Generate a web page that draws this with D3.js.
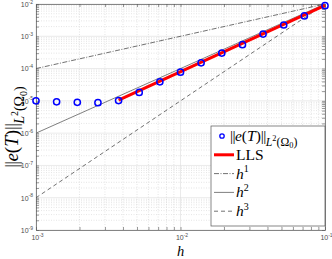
<!DOCTYPE html>
<html>
<head>
<meta charset="utf-8">
<script src="https://cdn.jsdelivr.net/npm/d3@7"></script>
<style>
  body { margin: 0; background: #fff; }
  svg { display: block; }
  .tick-label { font-family: "Liberation Sans", Arial, sans-serif; fill: #4d4d4d; }
  .math { font-family: "Liberation Serif", "DejaVu Serif", serif; fill: #000; }
</style>
</head>
<body>
<svg id="chart" width="332" height="259"></svg>
<script>
// mesh sizes and L2 error
const hValues = [0.001, 0.001389, 0.001931, 0.002683, 0.003728, 0.005179, 0.007197,
                 0.01, 0.01389, 0.01931, 0.02683, 0.03728, 0.05179, 0.07197, 0.1];
const errValues = [1.0e-5, 9.3e-6, 9.0e-6, 8.8e-6, 1.02e-5, 1.82e-5, 3.89e-5,
                   7.76e-5, 1.51e-4, 3.02e-4, 5.5e-4, 1.17e-3, 2.24e-3, 4.27e-3, 8.9e-3];
// least squares fit line end points
const llsH = [0.003728, 0.1];
const llsErr = [1.05e-5, 9.1e-3];
// reference slopes
const refH = [0.001, 0.1];
const refH1 = [1e-4, 1e-2];
const refH2 = [1e-6, 1e-2];
const refH3 = [1e-8, 1e-2];
const xTickExps = [-3, -2, -1];
const yTickExps = [-9, -8, -7, -6, -5, -4, -3, -2];

const margin = { left: 36, right: 325, top: 4, bottom: 230 };
const svg = d3.select('#chart');

const x = d3.scaleLog().domain([1e-3, 1e-1]).range([margin.left, margin.right]);
const y = d3.scaleLog().domain([1e-9, 1e-2]).range([margin.bottom, margin.top]);

function minorTicks(exps) {
    const out = [];
    exps.slice(0, -1).forEach(e => {
        for (let k = 2; k <= 9; k++) out.push(k * Math.pow(10, e));
    });
    return out;
}
const xMinor = minorTicks(xTickExps);
const yMinor = minorTicks(yTickExps);
const xMajor = xTickExps.map(e => Math.pow(10, e));
const yMajor = yTickExps.map(e => Math.pow(10, e));

// grid
const grid = svg.append('g');
grid.selectAll('.xminor').data(xMinor).join('line')
    .attr('x1', d => x(d)).attr('x2', d => x(d))
    .attr('y1', margin.top).attr('y2', margin.bottom)
    .attr('stroke', '#d4d4d4').attr('stroke-width', 0.6).attr('stroke-dasharray', '1,1.5');
grid.selectAll('.yminor').data(yMinor).join('line')
    .attr('y1', d => y(d)).attr('y2', d => y(d))
    .attr('x1', margin.left).attr('x2', margin.right)
    .attr('stroke', '#d4d4d4').attr('stroke-width', 0.6).attr('stroke-dasharray', '1,1.5');
grid.selectAll('.xmajor').data(xMajor).join('line')
    .attr('x1', d => x(d)).attr('x2', d => x(d))
    .attr('y1', margin.top).attr('y2', margin.bottom)
    .attr('stroke', '#dcdcdc').attr('stroke-width', 0.6);
grid.selectAll('.ymajor').data(yMajor).join('line')
    .attr('y1', d => y(d)).attr('y2', d => y(d))
    .attr('x1', margin.left).attr('x2', margin.right)
    .attr('stroke', '#dcdcdc').attr('stroke-width', 0.6);

// axes (ticks inside, box on)
const allX = xMajor.concat(xMinor);
const allY = yMajor.concat(yMinor);
function styleAxis(g) {
    g.selectAll('text').remove();
    g.select('.domain').attr('stroke', '#555').attr('stroke-width', 0.7);
    g.selectAll('.tick line').attr('stroke', '#555').attr('stroke-width', 0.6);
}
svg.append('g').attr('transform', `translate(0,${margin.bottom})`)
    .call(d3.axisBottom(x).tickValues(allX).tickSize(-3).tickSizeOuter(0)).call(styleAxis);
svg.append('g').attr('transform', `translate(0,${margin.top})`)
    .call(d3.axisTop(x).tickValues(allX).tickSize(-3).tickSizeOuter(0)).call(styleAxis);
svg.append('g').attr('transform', `translate(${margin.left},0)`)
    .call(d3.axisLeft(y).tickValues(allY).tickSize(-3).tickSizeOuter(0)).call(styleAxis);
svg.append('g').attr('transform', `translate(${margin.right},0)`)
    .call(d3.axisRight(y).tickValues(allY).tickSize(-3).tickSizeOuter(0)).call(styleAxis);

// tick labels 10^n
function powLabel(g, e, px, py, anchor) {
    const t = g.append('text').attr('class', 'tick-label')
        .attr('x', px).attr('y', py).attr('text-anchor', anchor);
    t.append('tspan').attr('font-size', 7).text('10');
    t.append('tspan').attr('font-size', 5).attr('dy', -3.2).text(e);
}
const labels = svg.append('g');
xTickExps.forEach(e => powLabel(labels, e, x(Math.pow(10, e)) + 1.5, 240, 'middle'));
yTickExps.forEach(e => powLabel(labels, e, margin.left - 3, y(Math.pow(10, e)) + 2.8, 'end'));

// reference lines
const line = d3.line().x(d => x(d[0])).y(d => y(d[1]));
const refs = [
    { vals: refH1, color: '#4d4d4d', dash: '5,1.5,1,1.5', width: 0.8 },
    { vals: refH2, color: '#707070', dash: null, width: 0.9 },
    { vals: refH3, color: '#4d4d4d', dash: '4,3', width: 0.8 }
];
refs.forEach(r => {
    svg.append('path')
        .datum(refH.map((h, i) => [h, r.vals[i]]))
        .attr('d', line)
        .attr('fill', 'none')
        .attr('stroke', r.color)
        .attr('stroke-width', r.width)
        .attr('stroke-dasharray', r.dash);
});

// LLS fit
svg.append('path')
    .datum(llsH.map((h, i) => [h, llsErr[i]]))
    .attr('d', line)
    .attr('fill', 'none')
    .attr('stroke', '#ff0000')
    .attr('stroke-width', 3);

// error markers
svg.selectAll('.pt').data(hValues.map((h, i) => [h, errValues[i]])).join('circle')
    .attr('cx', d => x(d[0])).attr('cy', d => y(d[1]))
    .attr('r', 3.1)
    .attr('fill', 'none')
    .attr('stroke', '#0000ff')
    .attr('stroke-width', 1.5);

// norm label built from tspans
function normLabel(t, size) {
    const bars = () => t.append('tspan').attr('letter-spacing', -size * 0.04).text('||');
    bars();
    t.append('tspan').attr('font-style', 'italic').text('e');
    t.append('tspan').text('(');
    t.append('tspan').attr('font-style', 'italic').text('T');
    t.append('tspan').text(')');
    bars();
    t.append('tspan').attr('font-style', 'italic').attr('font-size', size * 0.74).attr('dy', size * 0.3).text('L');
    t.append('tspan').attr('font-size', size * 0.52).attr('dy', -size * 0.32).text('2');
    t.append('tspan').attr('font-size', size * 0.74).attr('dy', size * 0.32).text('(\u03a9');
    t.append('tspan').attr('font-size', size * 0.52).attr('dy', size * 0.15).text('0');
    t.append('tspan').attr('font-size', size * 0.74).attr('dy', -size * 0.15).text(')');
}

// axis titles
svg.append('text').attr('class', 'math')
    .attr('x', x(Math.pow(10, -2))).attr('y', 255.5)
    .attr('text-anchor', 'middle').attr('font-size', 14.5).attr('font-style', 'italic')
    .text('h');
const yTitle = svg.append('text').attr('class', 'math')
    .attr('transform', `translate(18,127) rotate(-90)`)
    .attr('text-anchor', 'middle').attr('font-size', 19);
normLabel(yTitle, 19);

// legend
const legend = svg.append('g');
const lx = 211, ly = 126, lw = 114, lh = 100;
legend.append('rect').attr('x', lx).attr('y', ly).attr('width', lw).attr('height', lh)
    .attr('fill', '#fff').attr('stroke', '#555').attr('stroke-width', 0.7);
const legendItems = [
    { kind: 'marker' },
    { kind: 'line', color: '#ff0000', width: 3, dash: null, text: 'LLS' },
    { kind: 'line', color: '#4d4d4d', width: 0.8, dash: '5,1.5,1,1.5', pow: '1' },
    { kind: 'line', color: '#707070', width: 0.9, dash: null, pow: '2' },
    { kind: 'line', color: '#4d4d4d', width: 0.8, dash: '4,3', pow: '3' }
];
legendItems.forEach((it, i) => {
    const cy = ly + 10 + i * 18.8;
    if (it.kind === 'marker') {
        legend.append('circle').attr('cx', lx + 11).attr('cy', cy).attr('r', 2.2)
            .attr('fill', 'none').attr('stroke', '#0000ff').attr('stroke-width', 1.3);
    } else {
        legend.append('line').attr('x1', lx + 3).attr('x2', lx + 23).attr('y1', cy).attr('y2', cy)
            .attr('stroke', it.color).attr('stroke-width', it.width).attr('stroke-dasharray', it.dash);
    }
    const t = legend.append('text').attr('class', 'math')
        .attr('x', it.kind === 'marker' ? lx + 19 : lx + 25).attr('y', cy + 5).attr('font-size', 15.5);
    if (it.kind === 'marker') normLabel(t, 16);
    else if (it.text) t.text(it.text);
    else {
        t.append('tspan').attr('font-style', 'italic').text('h');
        t.append('tspan').attr('font-size', 10).attr('dy', -6.5).text(it.pow);
    }
});
</script>
</body>
</html>
